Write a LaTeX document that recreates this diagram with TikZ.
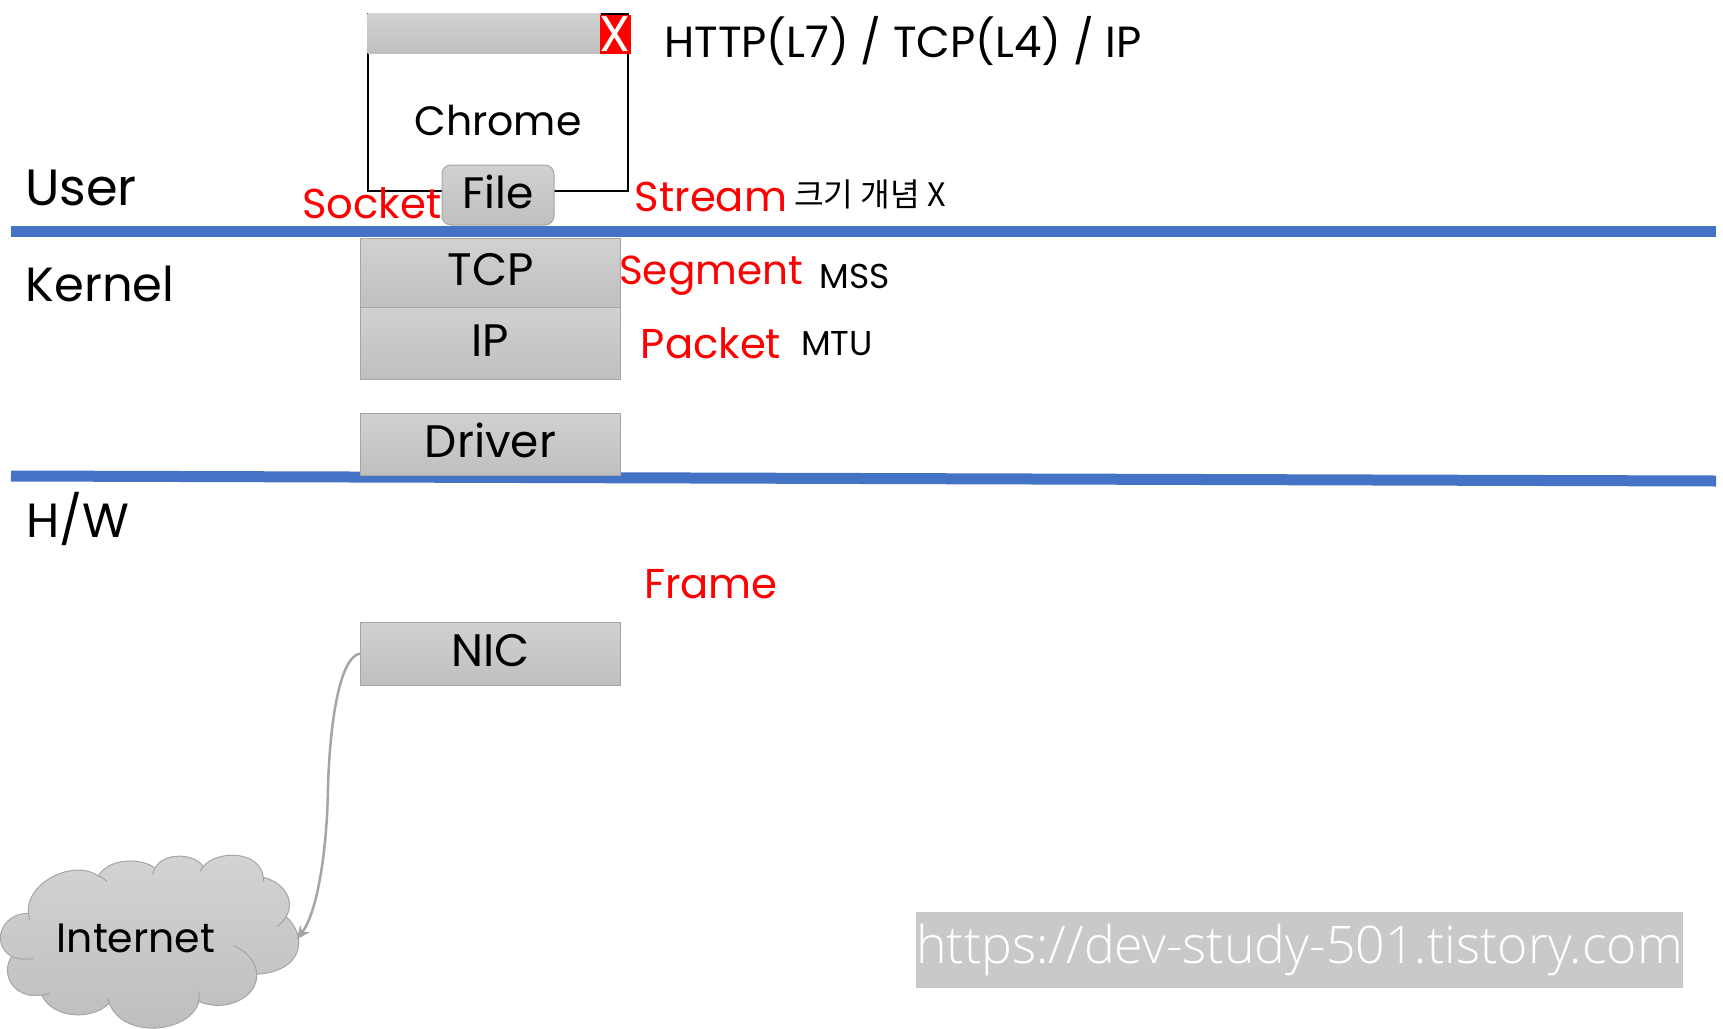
\documentclass[tikz,border=0pt]{standalone}
\usepackage{fontspec}
\usetikzlibrary{arrows.meta}
\setmainfont{Poppins}
\newfontfamily\krfont{Noto Sans CJK KR}
\newfontfamily\urlfont{Open Sans Light}
\definecolor{linegray}{HTML}{A5A5A5}
\definecolor{barblue}{HTML}{4472C4}
\tikzset{
    graybox/.style={draw=linegray, line width=1pt, top color=black!18, bottom color=black!25, inner sep=0pt, text height=32pt, text depth=6pt, font=\fontsize{45.5}{52}\selectfont},
    bigtext/.style={inner sep=0pt, font=\fontsize{41}{48}\selectfont},
    layertext/.style={inner sep=0pt, font=\fontsize{48}{56}\selectfont},
    redtext/.style={inner sep=0pt, text=red, font=\fontsize{41.7}{48}\selectfont},
    smalltext/.style={inner sep=0pt, font=\fontsize{34.5}{40}\selectfont},
    barline/.style={draw=barblue, line width=11pt}
}
\begin{document}
\begin{tikzpicture}[x=1pt, y=-1pt]
        \useasboundingbox (0, 0) rectangle (1723, 1028);

        % Window
        \coordinate (WL) at (368, 14);
        \coordinate (WR) at (628, 191);
        \draw[line width=2pt, fill=white] (WL) rectangle (WR);
        \node[graybox, draw=none, minimum width=233pt, minimum height=40pt] (title) at (484, 33.5) {};
        \node[minimum width=31pt, minimum height=39pt, inner sep=0pt, fill=red, text=white, font=\fontsize{50}{56}\selectfont] (close) at (615.5, 34) {X};
        \node[bigtext] (chrome) at (498, 121) {Chrome};
        \node[graybox, rounded corners=9pt, minimum width=112pt, minimum height=60pt, font=\fontsize{44}{52}\selectfont] (file) at (498, 195) {File};

        \node[inner sep=0pt, font=\fontsize{43.6}{50}\selectfont] (http) at (903, 41) {HTTP(L7) / TCP(L4) / IP};
        \node[layertext, font=\fontsize{51}{58}\selectfont] (user) at (81, 188) {User};
        \node[redtext] (socket) at (372, 203) {Socket};
        \node[redtext] (stream) at (711, 197) {Stream};
        \node[font=\fontsize{32.3}{40}\selectfont, inner sep=0pt] (sizeX) at (870, 194) {\krfont 크기 개념 X};

        % Bars
        \coordinate (B1L) at (11, 231);
        \coordinate (B1R) at (1716, 231);
        \coordinate (B2L) at (11, 476);
        \coordinate (B2R) at (1716, 481);
        \draw[barline] (B1L) -- (B1R);
        \draw[barline] (B2L) -- (B2R);

        % Kernel
        \node[layertext] (kernel) at (100, 284) {Kernel};
        \node[graybox, minimum width=260pt, minimum height=69pt] (tcp) at (490.5, 272.5) {TCP};
        \node[graybox, minimum width=260pt, minimum height=72pt] (ip) at (490.5, 343) {IP};
        \node[graybox, minimum width=260pt, minimum height=62pt] (driver) at (490.5, 444) {Driver};
        \node[redtext, font=\fontsize{40.5}{48}\selectfont] (segment) at (711, 276) {Segment};
        \node[smalltext] (mss) at (855, 276) {MSS};
        \node[redtext] (packet) at (711, 343) {Packet};
        \node[smalltext] (mtu) at (837, 344) {MTU};

        % H/W
        \node[layertext] (hw) at (78, 519) {H/W};
        \node[redtext] (frame) at (711, 584) {Frame};
        \node[graybox, minimum width=260pt, minimum height=63pt] (nic) at (490.5, 653.5) {NIC};

        % Cloud
        \begin{scope}[x=0.3333pt, y=-0.3333pt, shift={(0,1860)}]
            \draw[draw=linegray, line width=1pt, top color=black!17, bottom color=black!26]
                (85,880) .. controls (75,790) and (220,715) .. (295,768)
                .. controls (330,710) and (430,715) .. (465,745)
                .. controls (490,695) and (585,700) .. (610,740)
                .. controls (650,690) and (780,690) .. (790,772)
                .. controls (860,790) and (885,850) .. (858,890)
                .. controls (925,950) and (910,1055) .. (770,1063)
                .. controls (775,1130) and (680,1180) .. (597,1145)
                .. controls (570,1240) and (370,1260) .. (328,1150)
                .. controls (280,1200) and (160,1200) .. (125,1125)
                .. controls (40,1140) and (0,1060) .. (35,1010)
                .. controls (-30,970) and (5,880) .. (85,880) -- cycle;
            \draw[draw=linegray, line width=1pt]
                (295,768) .. controls (308,772) and (315,778) .. (320,785)
                (465,745) .. controls (462,752) and (459,758) .. (458,765)
                (610,740) .. controls (605,745) and (602,750) .. (600,755)
                (790,772) .. controls (791,776) .. (790,785)
                (858,890) .. controls (850,905) and (840,915) .. (830,920)
                (770,1063) .. controls (770,1030) and (745,995) .. (700,978)
                (597,1145) .. controls (597,1135) .. (598,1115)
                (328,1150) .. controls (325,1145) .. (322,1135)
                (125,1125) .. controls (135,1125) .. (150,1120)
                (35,1010) .. controls (60,1018) .. (100,1017)
                (85,880) .. controls (85,890) .. (90,900);
        \end{scope}
        \node[bigtext] (internet) at (136, 938) {Internet};
        \coordinate (cloudend) at (297, 939);
        \coordinate (wire) at (328, 787);

        \draw[-{Stealth[length=13pt, width=12pt]}, draw=linegray, line width=2.5pt] (nic.west) .. controls (340, 657) and (330, 720) .. (wire)
            .. controls (327, 853) and (317, 913) .. (cloudend);

        % Watermark
        \node[fill=black!21, text=white, inner sep=0pt, minimum width=766pt, minimum height=76pt, font=\urlfont\fontsize{51.8}{60}\selectfont] (url) at (1299.5, 950) {https://dev-study-501.tistory.com};
    \end{tikzpicture}
\end{document}
